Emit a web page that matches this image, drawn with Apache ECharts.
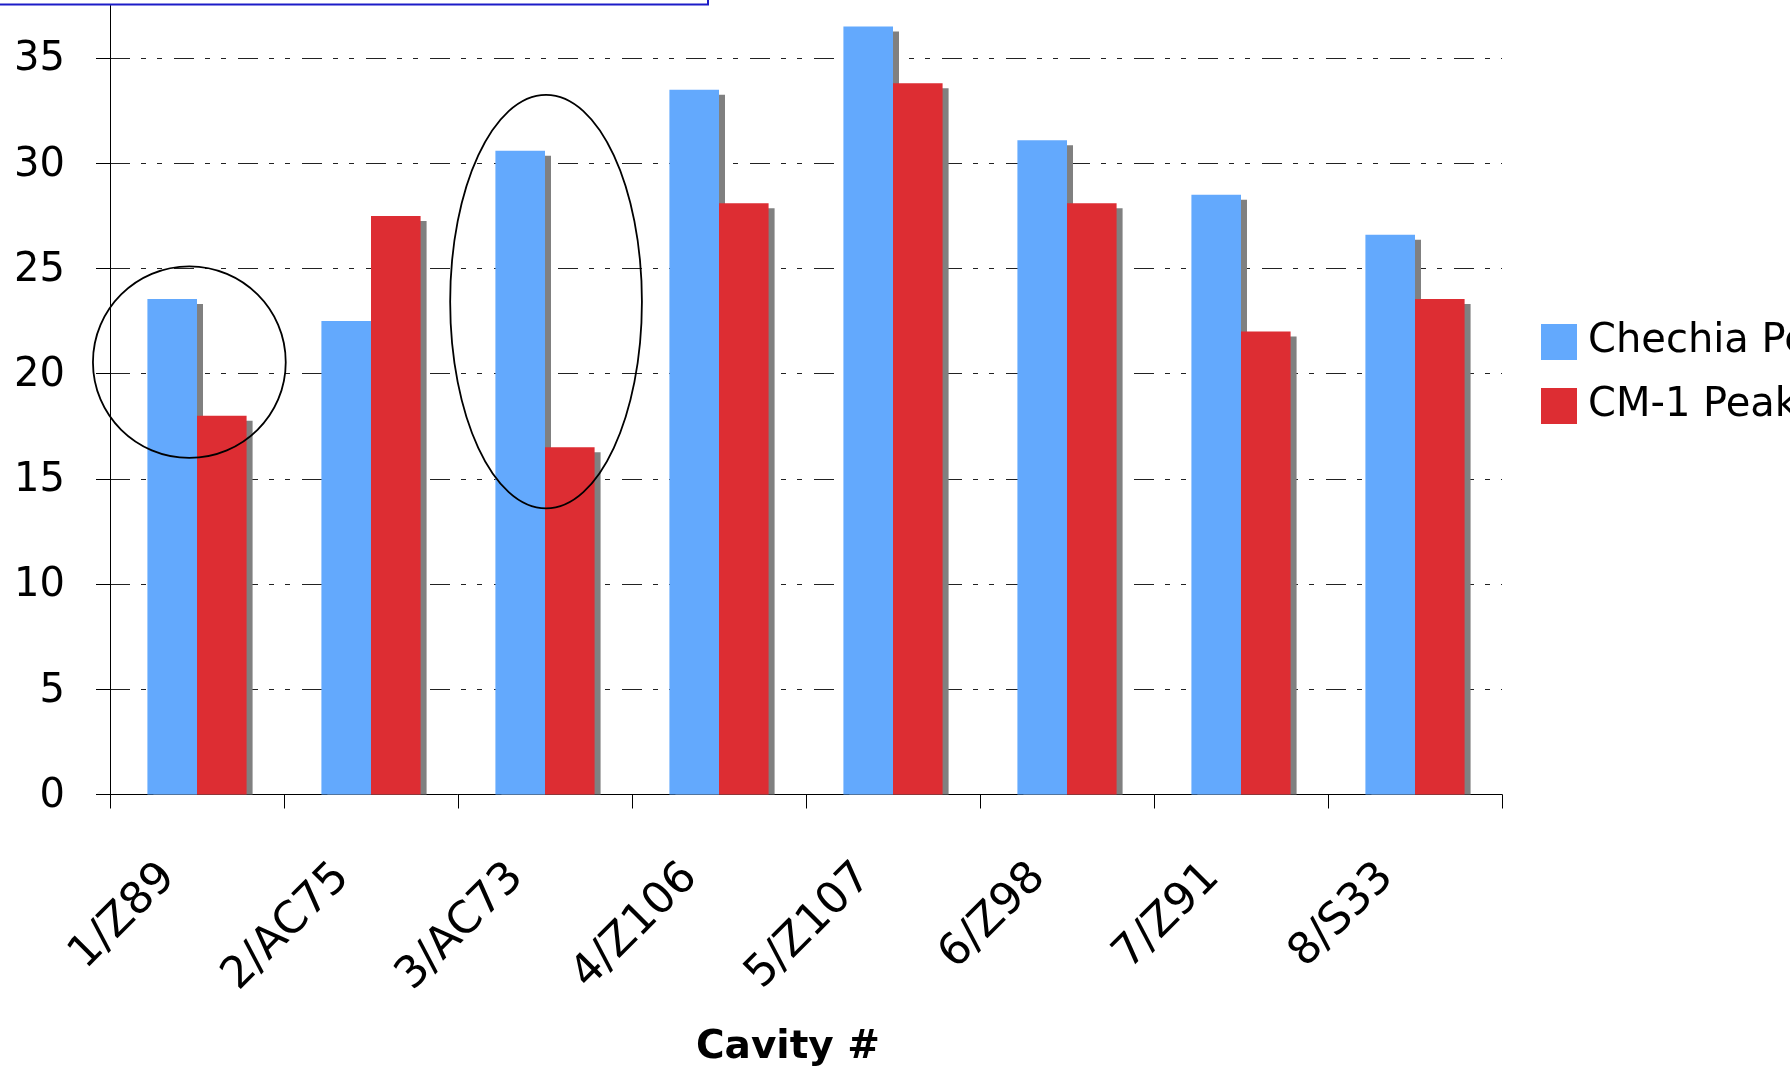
<!DOCTYPE html>
<html>
<head>
<meta charset="utf-8">
<script src="https://cdn.jsdelivr.net/npm/echarts@6/dist/echarts.min.js"></script>
<style>
  html, body { margin: 0; padding: 0; background: #ffffff; }
  #chart { width: 1790px; height: 1068px; }
</style>
</head>
<body>
<div id="chart"></div>
<script>
// Cavity identifiers along the x axis
const cavities = ['1/Z89', '2/AC75', '3/AC73', '4/Z106', '5/Z107', '6/Z98', '7/Z91', '8/S33'];
// Peak values per cavity
const chechiaPeak = [23.55, 22.5, 30.6, 33.5, 36.5, 31.1, 28.5, 26.6];
const cm1Peak = [18.0, 27.5, 16.5, 28.1, 33.8, 28.1, 22.0, 23.55];
const seriesNames = ['Chechia Peak', 'CM-1 Peak'];
const axisTitle = 'Cavity #';

const FONT = '"DejaVu Sans", Verdana, sans-serif';
const BLUE = '#63a9fd';
const RED = '#dd2d33';
const SHADOW = '#808080';
const BAR_FRACTION = 0.285;   // each bar's share of a category band
const SHADOW_DX = 6;
const SHADOW_DY = 5;

// drop-shadow rectangles behind every bar, one row per (category, value, series)
const shadowRows = [];
[chechiaPeak, cm1Peak].forEach((vals, s) => vals.forEach((v, i) => shadowRows.push([i, v, s])));

const chart = echarts.init(document.getElementById('chart'), null, { renderer: 'canvas' });

chart.setOption({
  animation: false,
  backgroundColor: '#ffffff',
  textStyle: { fontFamily: FONT, color: '#000' },
  grid: { left: 110, right: 288, top: 5.5, bottom: 273.5, containLabel: false, outerBoundsMode: 'none' },
  legend: {
    orient: 'vertical',
    left: 1541,
    top: 322,
    padding: 0,
    itemWidth: 36,
    itemHeight: 36,
    itemGap: 24,
    icon: 'rect',
    data: seriesNames,
    selectedMode: false,
    textStyle: { fontFamily: FONT, fontSize: 40, color: '#000', padding: [0, 0, 0, 6] }
  },
  xAxis: {
    type: 'category',
    data: cavities,
    boundaryGap: true,
    axisLine: { show: true, lineStyle: { color: '#000', width: 1 } },
    axisTick: { show: true, length: 14, alignWithLabel: false, lineStyle: { color: '#000', width: 1 } },
    axisLabel: {
      rotate: 45,
      interval: 0,
      margin: 48,
      fontFamily: FONT,
      fontSize: 44,
      color: '#000',
      padding: [0, 40, 0, 0]
    },
    splitLine: { show: false },
    name: axisTitle,
    nameLocation: 'middle',
    nameGap: 234,
    nameTextStyle: { fontFamily: FONT, fontSize: 39, fontWeight: 'bold', color: '#000', padding: [0, 36, 0, 0] }
  },
  yAxis: {
    type: 'value',
    min: 0,
    max: 37.5,
    interval: 5,
    axisLine: { show: true, lineStyle: { color: '#000', width: 1 } },
    axisTick: { show: true, length: 14, lineStyle: { color: '#000', width: 1 } },
    axisLabel: {
      fontFamily: FONT, fontSize: 40, color: '#000', margin: 45, showMaxLabel: false,
      verticalAlign: 'top', lineHeight: 4
    },
    splitLine: {
      show: true,
      showMinLine: false,
      showMaxLine: false,
      lineStyle: { color: '#222', width: 1, type: [20, 11, 5, 11, 5, 12] }
    }
  },
  series: [
    {
      type: 'custom',
      name: 'shadow',
      z: 1,
      silent: true,
      data: shadowRows,
      encode: { x: 0, y: 1 },
      renderItem: function (params, api) {
        const i = api.value(0), v = api.value(1), s = api.value(2);
        const top = api.coord([i, v]);
        const base = api.coord([i, 0]);
        const band = api.size([1, 0])[0];
        const w = band * BAR_FRACTION;
        return {
          type: 'rect',
          shape: { x: top[0] - w + s * w + SHADOW_DX, y: top[1] + SHADOW_DY, width: w, height: base[1] - top[1] - SHADOW_DY },
          style: { fill: SHADOW }
        };
      }
    },
    {
      type: 'bar',
      name: seriesNames[0],
      data: chechiaPeak,
      barWidth: (BAR_FRACTION * 100) + '%',
      barGap: '0%',
      z: 2,
      itemStyle: { color: BLUE },
      emphasis: { disabled: true },
      silent: true
    },
    {
      type: 'bar',
      name: seriesNames[1],
      data: cm1Peak,
      barWidth: (BAR_FRACTION * 100) + '%',
      barGap: '0%',
      z: 3,
      itemStyle: { color: RED },
      emphasis: { disabled: true },
      silent: true
    }
  ]
});

// Annotation rings around the cavities discussed in the text
const rings = [
  { cat: 0, low: 16.0, high: 25.1, shift: -0.044, rx: 0.554 },
  { cat: 2, low: 13.6, high: 33.25, shift: 0.006, rx: 0.551 }
];
const bandPx = chart.convertToPixel({ gridIndex: 0 }, [1, 0])[0] - chart.convertToPixel({ gridIndex: 0 }, [0, 0])[0];
const ringGraphics = rings.map(r => {
  const topPt = chart.convertToPixel({ gridIndex: 0 }, [r.cat, r.high]);
  const botPt = chart.convertToPixel({ gridIndex: 0 }, [r.cat, r.low]);
  return {
    type: 'ellipse',
    z: 100,
    silent: true,
    shape: {
      cx: topPt[0] + r.shift * bandPx,
      cy: (topPt[1] + botPt[1]) / 2,
      rx: r.rx * bandPx,
      ry: (botPt[1] - topPt[1]) / 2
    },
    style: { fill: 'none', stroke: '#000', lineWidth: 1.8 }
  };
});

chart.setOption({
  graphic: [
    {
      type: 'rect',
      z: 100,
      silent: true,
      shape: { x: -10, y: -60, width: 718, height: 64.5 },
      style: { fill: 'none', stroke: '#1c1cc8', lineWidth: 2 }
    }
  ].concat(ringGraphics)
});
</script>
</body>
</html>
